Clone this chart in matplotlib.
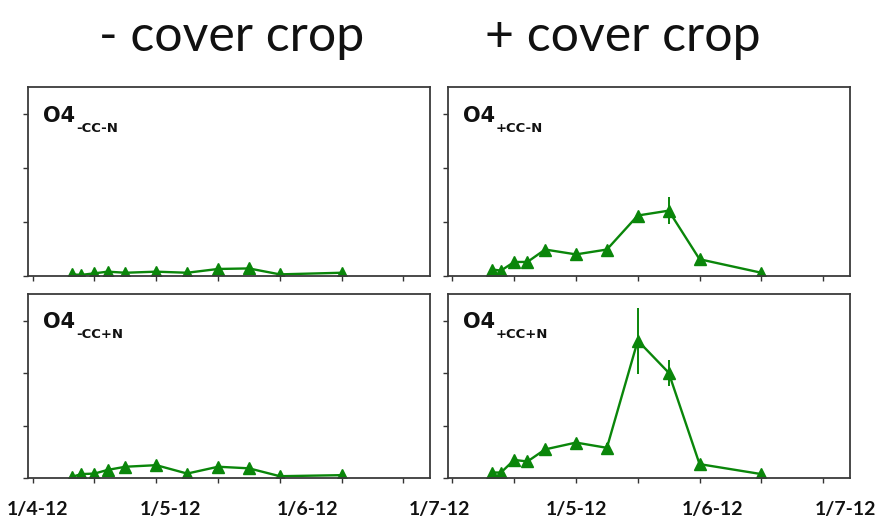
import numpy as np
import matplotlib.pyplot as plt
import matplotlib.dates as mdates
import matplotlib.transforms as mtransforms

# sampling dates (2012)
dates = np.array(['2012-04-12', '2012-04-14', '2012-04-17', '2012-04-20', '2012-04-24',
                  '2012-05-01', '2012-05-08', '2012-05-15', '2012-05-22', '2012-05-29',
                  '2012-06-12'], dtype='datetime64[D]')

# O4 values per treatment
o4_noCC_noN = [0.03, 0.02, 0.05, 0.08, 0.06, 0.08, 0.06, 0.13, 0.14, 0.03, 0.06]
o4_CC_noN = [0.12, 0.10, 0.26, 0.26, 0.49, 0.40, 0.49, 1.12, 1.21, 0.31, 0.06]
o4_noCC_N = [0.03, 0.08, 0.09, 0.16, 0.22, 0.25, 0.09, 0.22, 0.19, 0.04, 0.06]
o4_CC_N = [0.11, 0.11, 0.35, 0.32, 0.55, 0.68, 0.58, 2.62, 2.01, 0.27, 0.08]

err_noCC_noN = [0, 0, 0, 0, 0, 0, 0, 0, 0, 0, 0]
err_CC_noN = [0, 0, 0, 0, 0, 0, 0, 0, 0.25, 0, 0]
err_noCC_N = [0, 0, 0, 0, 0, 0, 0, 0, 0, 0, 0]
err_CC_N = [0, 0, 0, 0, 0, 0, 0.1, 0.63, 0.25, 0, 0]

subscripts = ['-CC-N', '+CC-N', '-CC+N', '+CC+N']
col_titles = ['- cover crop', '+ cover crop']

month_dates = np.array(['2012-04-01', '2012-05-01', '2012-06-01', '2012-07-01'], dtype='datetime64[D]')
month_labels = ['1/4-12', '1/5-12', '1/6-12', '1/7-12']
tick_dates = np.arange(np.datetime64('2012-04-03'), np.datetime64('2012-07-01'), 14)

green = '#0a860a'

fig = plt.figure(figsize=(8.75, 5.27), dpi=100)

# left, bottom for each panel (top row then bottom row)
boxes = [(0.0323, 0.4763), (0.512, 0.4763), (0.0323, 0.0924), (0.512, 0.0924)]
heights = [0.3586, 0.3586, 0.349, 0.349]
series = [o4_noCC_noN, o4_CC_noN, o4_noCC_N, o4_CC_N]
errs = [err_noCC_noN, err_CC_noN, err_noCC_N, err_CC_N]

for i in range(4):
    ax = fig.add_axes([boxes[i][0], boxes[i][1], 0.459, heights[i]])
    ax.errorbar(dates, series[i], yerr=errs[i], color=green, marker='^', ms=8.5,
                lw=1.7, elinewidth=1.4, capsize=0)
    ax.set_xlim(np.datetime64('2012-04-02'), np.datetime64('2012-07-02'))
    ax.set_ylim(0, 3.5)
    ax.set_yticks([0, 1, 2, 3])
    ax.set_yticklabels([])
    ax.set_xticks(tick_dates)
    ax.set_xticklabels([])
    ax.tick_params(direction='out', length=3.5, width=1, color='#333333')
    for s in ax.spines.values():
        s.set_color('#3a3a3a')
        s.set_linewidth(1.3)

    t = ax.text(0.037, 0.815, 'O4', transform=ax.transAxes, fontsize=15,
                fontweight='bold', color='#111111')
    ax.annotate(subscripts[i], xy=(1, 0.22), xycoords=t, xytext=(0.5, 0),
                textcoords='offset points', va='top', ha='left',
                fontsize=9.5, fontweight='bold', color='#111111')

    # month labels under bottom row
    if i >= 2:
        if i == 2:
            shift = 0.14
            todo = range(4)
        else:
            shift = 0.0
            todo = range(1, 4)
        trans = ax.get_xaxis_transform() + mtransforms.ScaledTranslation(shift, -0.31, fig.dpi_scale_trans)
        for k in todo:
            ax.text(mdates.date2num(month_dates[k]), 0, month_labels[k], transform=trans,
                    ha='center', va='center', fontsize=14, family='Lato', fontweight='bold',
                    color='#111111', clip_on=False)

fig.text(232 / 875, 1 - 37 / 527, col_titles[0], ha='center', va='center',
         fontsize=36, family='Lato', color='#111111')
fig.text(623 / 875, 1 - 37 / 527, col_titles[1], ha='center', va='center',
         fontsize=36, family='Lato', color='#111111')

fig.savefig('out.png', dpi=100)
